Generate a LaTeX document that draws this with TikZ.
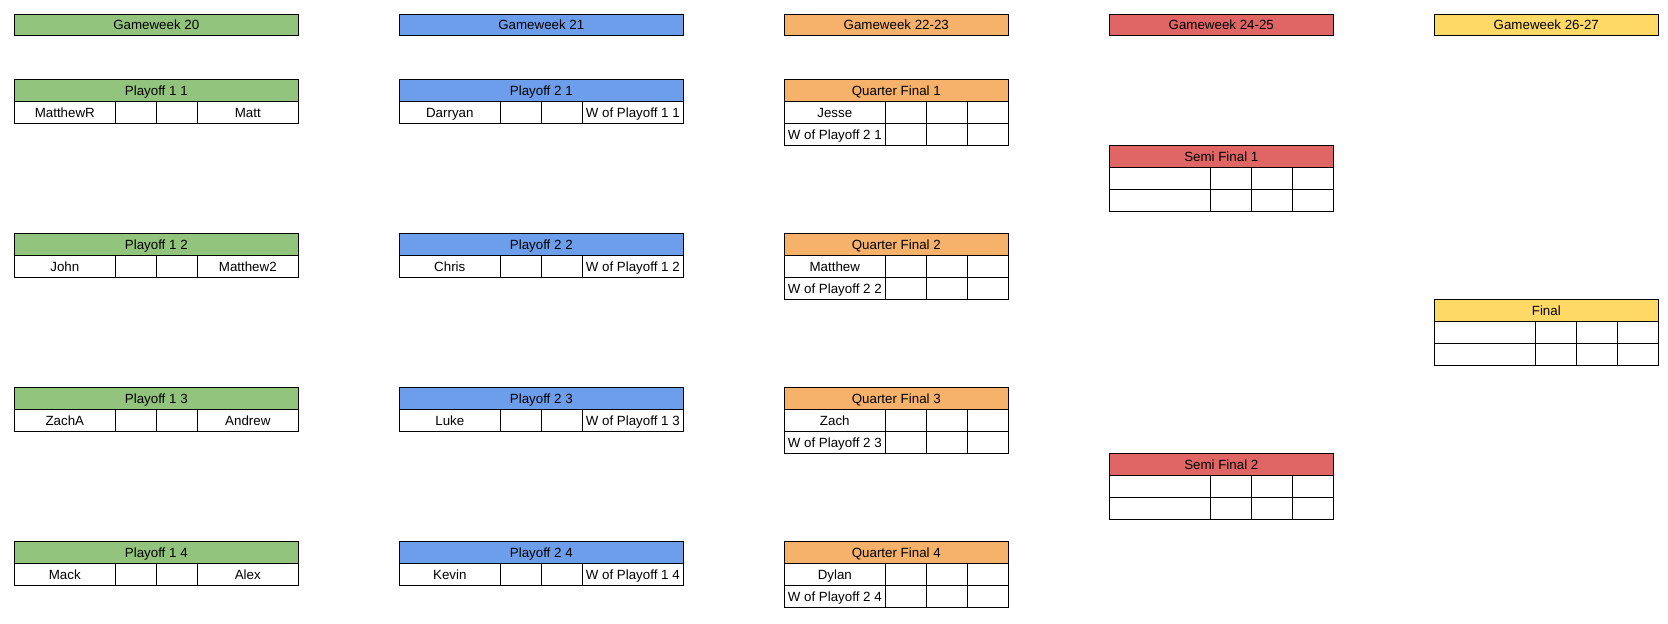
\documentclass[tikz,border=0pt]{standalone}
\usepackage{fontspec}
\setmainfont{Liberation Sans}
\definecolor{cgreen}{HTML}{93C47D}
\definecolor{cblue}{HTML}{6D9EEB}
\definecolor{corange}{HTML}{F6B26B}
\definecolor{cred}{HTML}{E06666}
\definecolor{cyellow}{HTML}{FFD966}
\tikzset{
  base/.style={draw=black, line width=0.8pt, inner sep=0pt, outer sep=0pt, anchor=north west,
    font=\fontsize{10pt}{12pt}\selectfont, text height=7.16pt, text depth=0pt, align=center},
  gwbox/.style={base, minimum height=15.75pt},
  headbox/.style={base, minimum height=16.5pt},
  cellbox/.style={base, fill=white, minimum height=16.5pt},
  widecell/.style={cellbox, minimum width=75.75pt},
  narrowcell/.style={cellbox, minimum width=30.75pt},
  pw/.style={minimum width=213pt},
  qw/.style={minimum width=168pt}
}
% playoff block: name, x, y, colour, title, left, right
\newcommand\pblock[7]{%
  \node[headbox, pw, fill=#4] (#1h) at (#2,#3) {#5};
  \node[widecell] (#1a) at (#1h.south west) {#6};
  \node[narrowcell] (#1b) at (#1a.north east) {};
  \node[narrowcell] (#1c) at (#1b.north east) {};
  \node[widecell] (#1d) at (#1c.north east) {#7};
}
% two-row block: name, x, y, colour, title, first, second
\newcommand\qblock[7]{%
  \node[headbox, qw, fill=#4] (#1h) at (#2,#3) {#5};
  \node[widecell] (#1a) at (#1h.south west) {#6};
  \node[narrowcell] (#1b) at (#1a.north east) {};
  \node[narrowcell] (#1c) at (#1b.north east) {};
  \node[narrowcell] (#1d) at (#1c.north east) {};
  \node[widecell] (#1e) at (#1a.south west) {#7};
  \node[narrowcell] (#1f) at (#1e.north east) {};
  \node[narrowcell] (#1g) at (#1f.north east) {};
  \node[narrowcell] (#1i) at (#1g.north east) {};
}
\begin{document}
\begin{tikzpicture}[x=0.75pt,y=-0.75pt]
\path[use as bounding box] (0,0) rectangle (1668,624);
% gameweek headers
\node[gwbox, pw, fill=cgreen] (gw1) at (14.3,14.3) {Gameweek 20};
\node[gwbox, pw, fill=cblue] (gw2) at (399.3,14.3) {Gameweek 21};
\node[gwbox, qw, fill=corange] (gw3) at (784.3,14.3) {Gameweek 22-23};
\node[gwbox, qw, fill=cred] (gw4) at (1109.3,14.3) {Gameweek 24-25};
\node[gwbox, qw, fill=cyellow] (gw5) at (1434.3,14.3) {Gameweek 26-27};
% playoff round 1
\pblock{pa}{14.3}{79.3}{cgreen}{Playoff 1 1}{MatthewR}{Matt}
\pblock{pb}{14.3}{233.3}{cgreen}{Playoff 1 2}{John}{Matthew2}
\pblock{pc}{14.3}{387.3}{cgreen}{Playoff 1 3}{ZachA}{Andrew}
\pblock{pd}{14.3}{541.3}{cgreen}{Playoff 1 4}{Mack}{Alex}
% playoff round 2
\pblock{qa}{399.3}{79.3}{cblue}{Playoff 2 1}{Darryan}{W of Playoff 1 1}
\pblock{qb}{399.3}{233.3}{cblue}{Playoff 2 2}{Chris}{W of Playoff 1 2}
\pblock{qc}{399.3}{387.3}{cblue}{Playoff 2 3}{Luke}{W of Playoff 1 3}
\pblock{qd}{399.3}{541.3}{cblue}{Playoff 2 4}{Kevin}{W of Playoff 1 4}
% quarter finals
\qblock{ra}{784.3}{79.3}{corange}{Quarter Final 1}{Jesse}{W of Playoff 2 1}
\qblock{rb}{784.3}{233.3}{corange}{Quarter Final 2}{Matthew}{W of Playoff 2 2}
\qblock{rc}{784.3}{387.3}{corange}{Quarter Final 3}{Zach}{W of Playoff 2 3}
\qblock{rd}{784.3}{541.3}{corange}{Quarter Final 4}{Dylan}{W of Playoff 2 4}
% semi finals
\qblock{sa}{1109.3}{145.3}{cred}{Semi Final 1}{}{}
\qblock{sb}{1109.3}{453.3}{cred}{Semi Final 2}{}{}
% final
\qblock{fa}{1434.3}{299.3}{cyellow}{Final}{}{}
\end{tikzpicture}
\end{document}
